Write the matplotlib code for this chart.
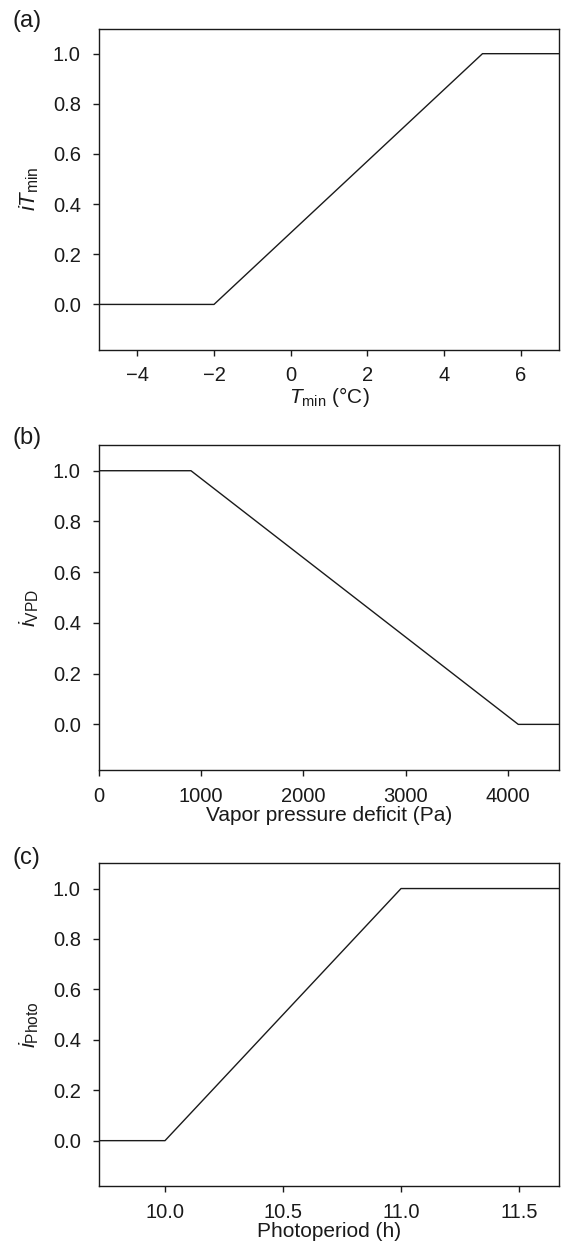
import numpy as np
import matplotlib.pyplot as plt

plt.rcParams['font.family'] = ['Liberation Sans', 'DejaVu Sans']
plt.rcParams['mathtext.fontset'] = 'custom'
plt.rcParams['mathtext.rm'] = 'Liberation Sans'
plt.rcParams['mathtext.it'] = 'Liberation Sans:italic'
plt.rcParams['font.size'] = 14

# panel (a): minimum temperature index
tminX = [-5, -2, 5, 7]
tminY = [0, 0, 1, 1]

# panel (b): vapor pressure deficit index
vpdX = [0, 900, 4100, 4500]
vpdY = [1, 1, 0, 0]

# panel (c): photoperiod index
photoX = [9.72, 10.0, 11.0, 11.67]
photoY = [0, 0, 1, 1]

yTicks = [0.0, 0.2, 0.4, 0.6, 0.8, 1.0]

fig = plt.figure(figsize=(5.62, 12.44), dpi=100)

left = 0.176
width = 0.995 - left
boxes = [(0.719, 0.977), (0.381, 0.642), (0.0466, 0.306)]
tagY = [10, 427, 847]
axs = [fig.add_axes([left, b, width, t - b]) for b, t in boxes]

panels = [
    (tminX, tminY, (-5, 7), [-4, -2, 0, 2, 4, 6], ["\u22124", "\u22122", "0", "2", "4", "6"],
     "$T_{\\rm min}$ (\u00b0C)", "$iT_{\\rm min}$", "(a)"),
    (vpdX, vpdY, (0, 4500), [0, 1000, 2000, 3000, 4000], ["0", "1000", "2000", "3000", "4000"],
     "Vapor pressure deficit (Pa)", "$i_{\\rm VPD}$", "(b)"),
    (photoX, photoY, (9.72, 11.67), [10.0, 10.5, 11.0, 11.5], ["10.0", "10.5", "11.0", "11.5"],
     "Photoperiod (h)", "$i_{\\rm Photo}$", "(c)"),
]

ink = "#1a1a1a"
for ax, ty, (x, y, xlim, xt, xtl, xlab, ylab, tag) in zip(axs, tagY, panels):
    ax.plot(x, y, color=ink, linewidth=1.0)
    ax.set_xlim(*xlim)
    ax.set_ylim(-0.18, 1.1)
    ax.set_xticks(xt)
    ax.set_xticklabels(xtl)
    ax.set_yticks(yTicks)
    ax.set_yticklabels(["%.1f" % v for v in yTicks])
    ax.tick_params(direction="out", length=4, width=1, colors=ink, labelsize=14.5)
    ax.tick_params(axis="y", pad=9)
    ax.tick_params(axis="x", pad=8)
    for s in ax.spines.values():
        s.set_linewidth(1.0)
        s.set_color(ink)
    ax.set_xlabel(xlab, fontsize=15, labelpad=0, color=ink)
    ax.set_ylabel(ylab, fontsize=16, color=ink)
    ax.yaxis.set_label_coords(-0.125, 0.5)
    fig.text(0.022, 1 - ty / 1244, tag, fontsize=17, ha="left", va="top", color=ink)

fig.savefig("out.png", dpi=100)
